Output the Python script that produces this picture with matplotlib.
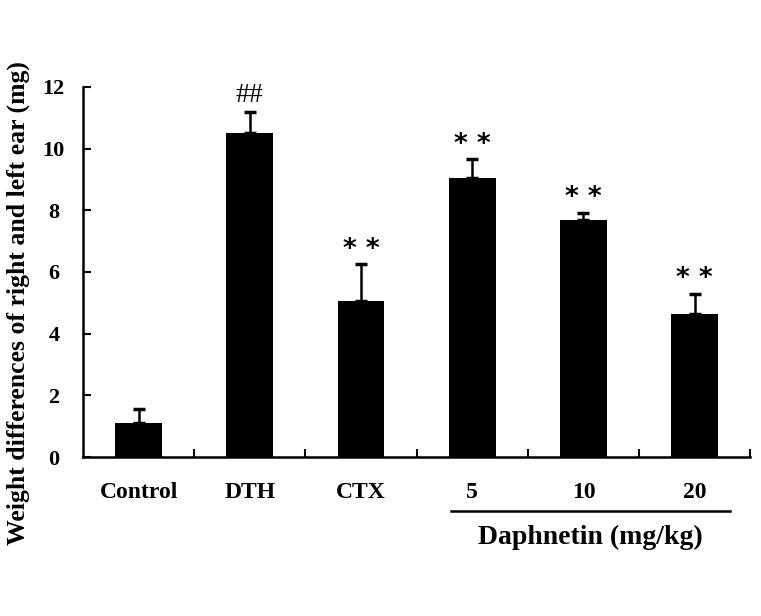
import numpy as np
import matplotlib.pyplot as plt
import matplotlib.transforms as mtransforms

groups = ['Control', 'DTH', 'CTX', '5', '10', '20']
means = [1.1, 10.5, 5.05, 9.05, 7.7, 4.65]
errors = [0.45, 0.7, 1.2, 0.6, 0.22, 0.65]
marks = ['', '##', '**', '**', '**', '**']

plt.rcParams['font.family'] = 'Liberation Serif'
plt.rcParams['font.weight'] = 'bold'

fig = plt.figure(figsize=(7.61, 6.16), dpi=100)
ax = fig.add_axes([0.109, 0.258, 0.877, 0.601])

x = np.arange(len(groups))
ax.bar(x, means, width=0.42, color='black', zorder=2)
ax.errorbar(x, means, yerr=[np.zeros(len(errors)), errors], fmt='none',
            ecolor='black', elinewidth=1.8, capsize=4, capthick=2.5, zorder=1)

for xi, m, e, s in zip(x, means, errors, marks):
    if s == '##':
        ax.text(xi, m + e + 0.1, s, ha='center', va='bottom',
                fontsize=20, fontweight='normal')
    elif s:
        ax.text(xi, m + e + 0.05, '* *', ha='center', va='bottom',
                fontsize=19, fontweight='bold', family='DejaVu Sans')

ax.set_xlim(-0.5, 5.5)
ax.set_ylim(0, 12)
ax.set_yticks(np.arange(0, 13, 2))
ax.set_xticks(x + 0.5, minor=False)
ax.set_xticklabels([])
ax.tick_params(axis='x', direction='in', length=6, width=1.5)
ax.tick_params(axis='y', direction='in', length=6, width=1.5, labelsize=16, pad=21)
for lbl in ax.get_yticklabels():
    lbl.set_fontweight('bold')
    lbl.set_horizontalalignment('center')

ax.spines['top'].set_visible(False)
ax.spines['right'].set_visible(False)
ax.spines['left'].set_linewidth(1.8)
ax.spines['bottom'].set_linewidth(1.8)

trans = mtransforms.blended_transform_factory(ax.transData, fig.transFigure)
for xi, g in zip(x, groups):
    ax.text(xi, 1 - 493 / 616, g, transform=trans, ha='center', va='center',
            fontsize=17, fontweight='bold')

ax.plot([2.81, 5.32], [1 - 511 / 616] * 2, transform=trans, color='black',
        lw=1.8, clip_on=False)
ax.text(4.06, 1 - 537 / 616, 'Daphnetin (mg/kg)', transform=trans,
        ha='center', va='center', fontsize=20, fontweight='bold')

fig.text(18 / 761, 1 - 303 / 616, 'Weight differences of right and left ear (mg)',
         rotation=90, ha='center', va='center', fontsize=18.5, fontweight='bold')

fig.savefig('out.png', dpi=100)
